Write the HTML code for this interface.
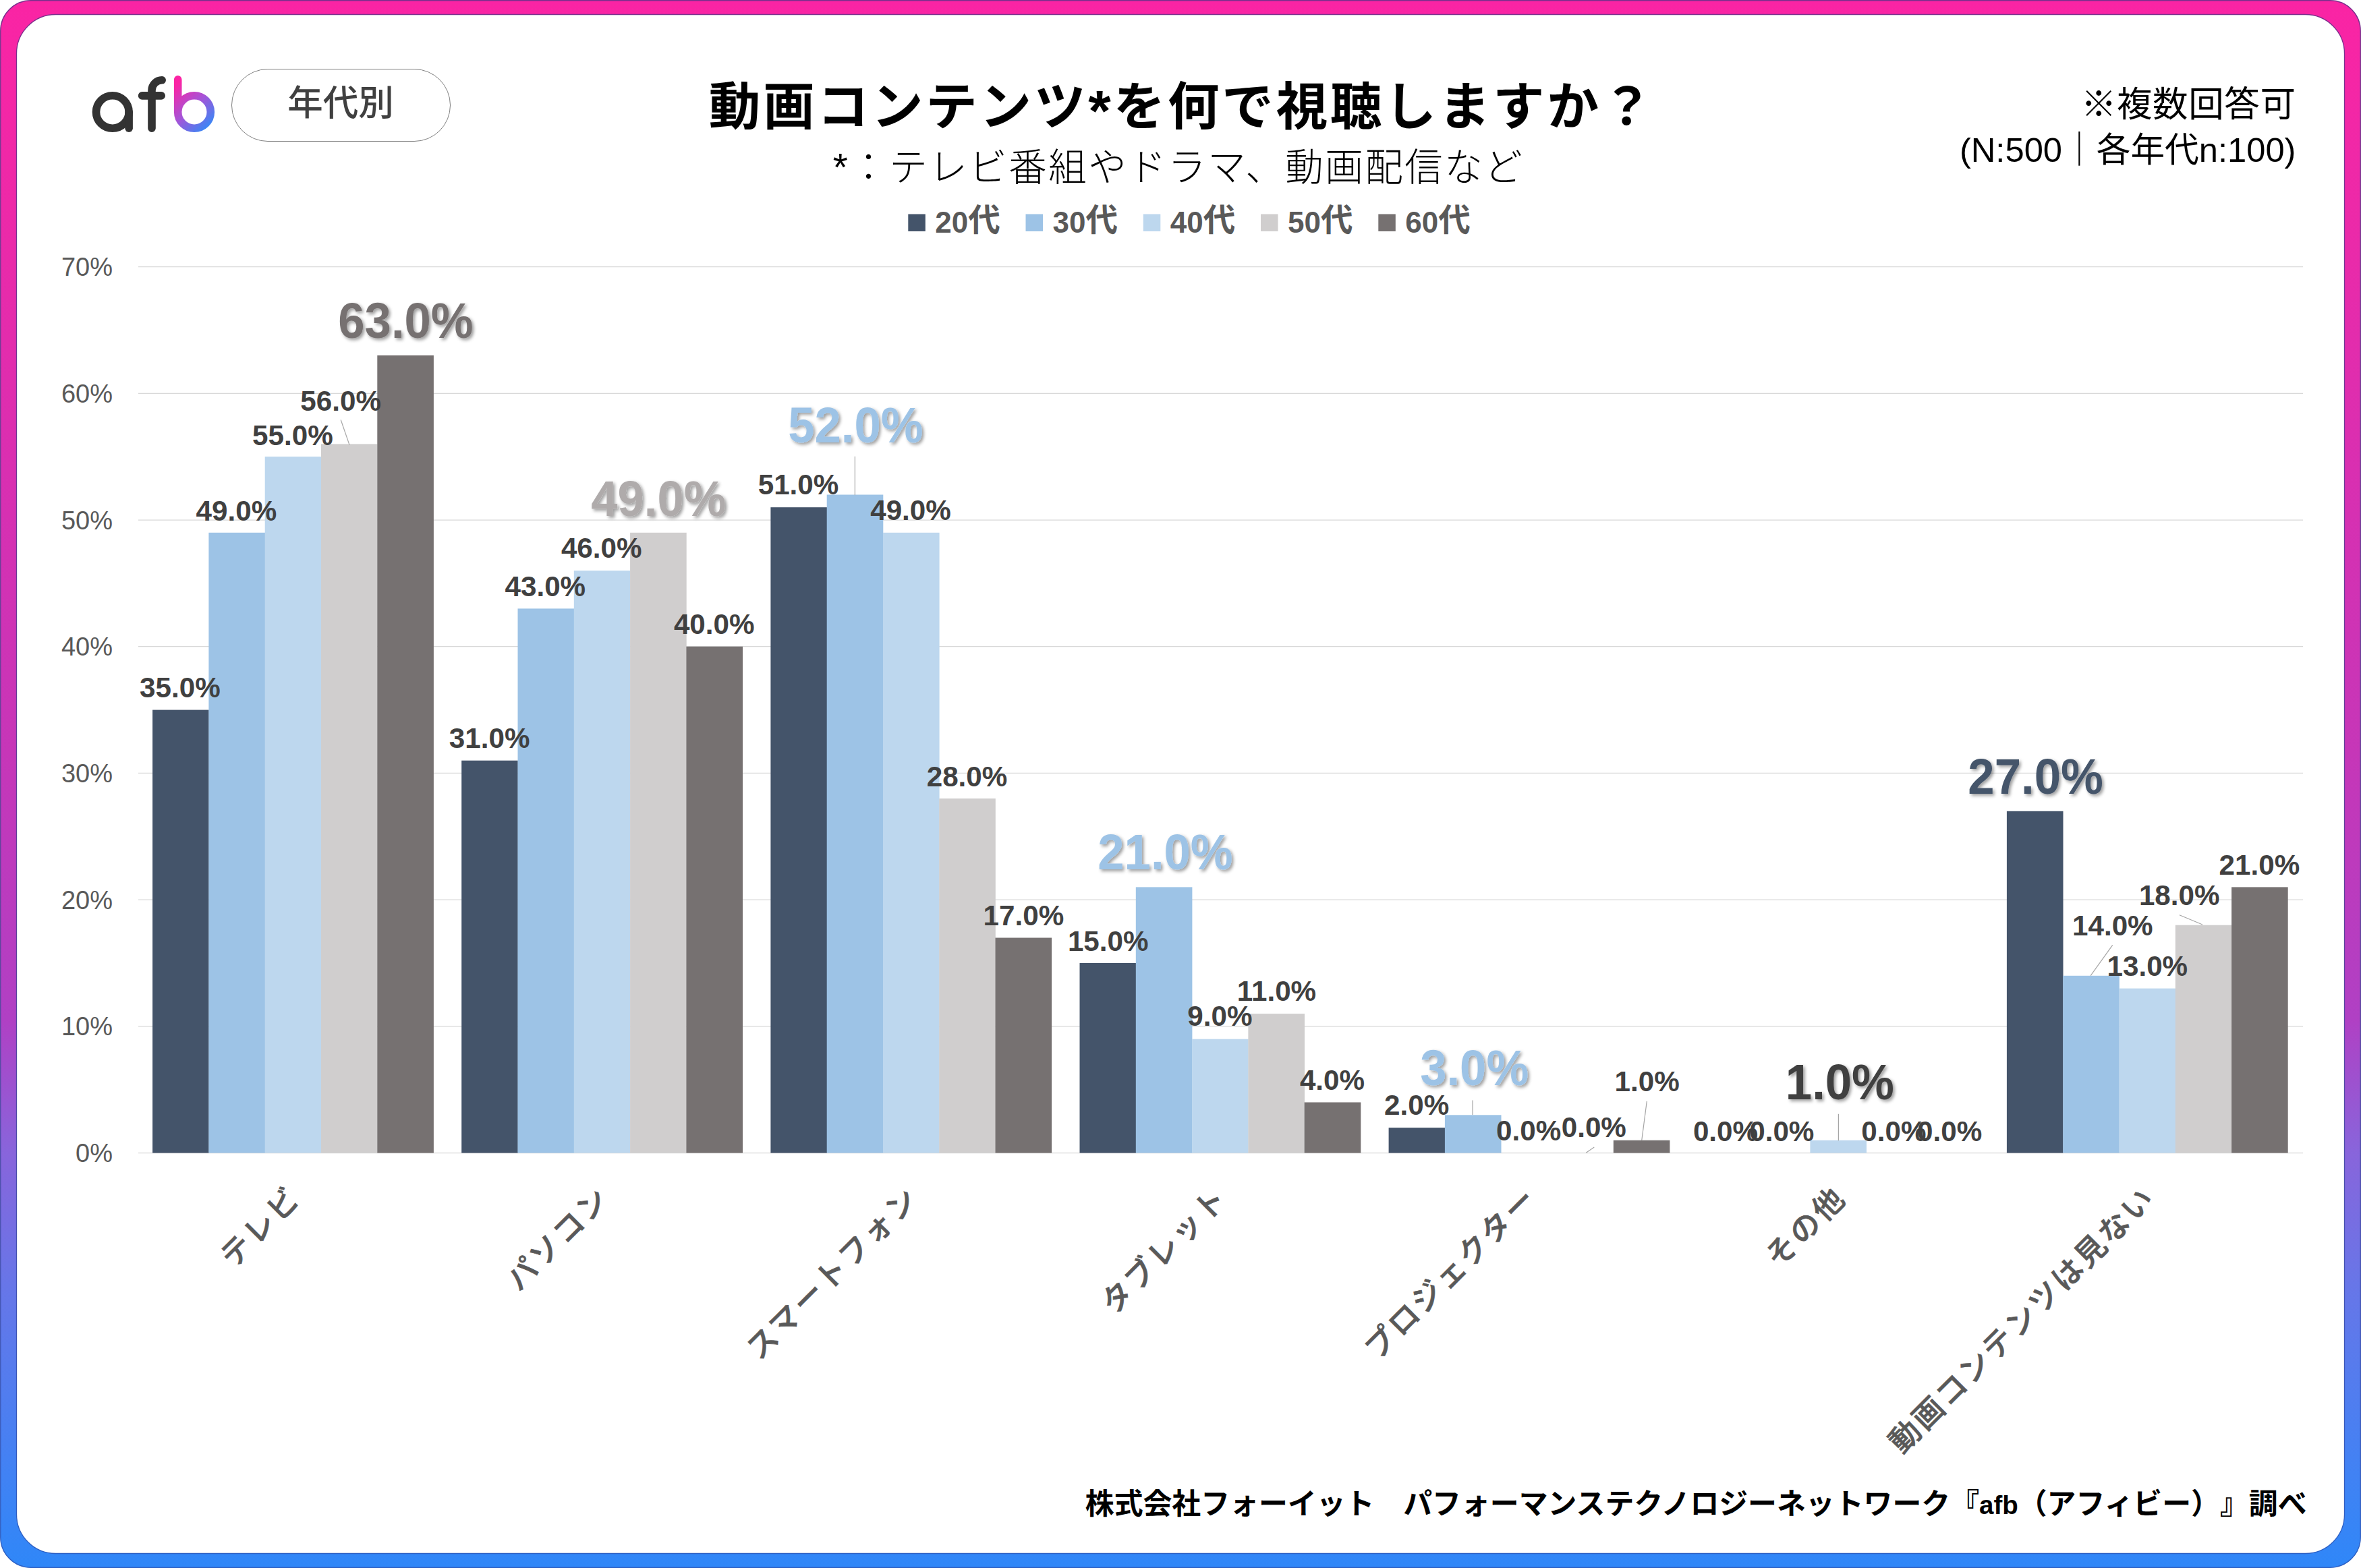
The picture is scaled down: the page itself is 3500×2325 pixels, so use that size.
<!DOCTYPE html>
<html lang="ja"><head><meta charset="utf-8"><title>動画コンテンツを何で視聴しますか？</title>
<style>html,body{margin:0;padding:0;background:#fff}svg{display:block}text{text-spacing-trim:space-all;font-family:"Liberation Sans","Noto Sans CJK JP",sans-serif}.j{font-family:"Liberation Sans","Noto Sans CJK JP",sans-serif}.d{font-weight:700;font-size:42.2px;fill:#404040;text-anchor:middle}.b{font-weight:700;font-size:73.5px;text-anchor:middle;filter:url(#sh)}.ax{font-size:38px;fill:#595959;text-anchor:end}.ct{font-size:45px;letter-spacing:3.6px;fill:#595959;stroke:#595959;stroke-width:.7px;text-anchor:end;font-weight:500}.lg{font-size:44px;font-weight:700;fill:#595959}.ld{stroke:#a6a6a6;stroke-width:1.2;fill:none}</style></head><body>
<svg width="3500" height="2325" viewBox="0 0 3500 2325">
<defs><linearGradient id="fg" x1="0" y1="0" x2="0" y2="1"><stop offset="0" stop-color="#FA24A4"/><stop offset="0.13" stop-color="#ED29A8"/><stop offset="0.30" stop-color="#D92FB1"/><stop offset="0.48" stop-color="#C636B8"/><stop offset="0.65" stop-color="#B040C4"/><stop offset="0.733" stop-color="#8964DB"/><stop offset="0.82" stop-color="#6776E8"/><stop offset="0.93" stop-color="#4481F3"/><stop offset="1" stop-color="#2F87F8"/></linearGradient><linearGradient id="sg" x1="0" y1="0" x2="0" y2="1"><stop offset="0" stop-color="#7a2f8c"/><stop offset="0.6" stop-color="#5b3f9a"/><stop offset="1" stop-color="#2b5fc4"/></linearGradient><linearGradient id="bg" gradientUnits="userSpaceOnUse" x1="262" y1="125" x2="318" y2="185"><stop offset="0" stop-color="#FB24A4"/><stop offset="0.5" stop-color="#A455D8"/><stop offset="1" stop-color="#2F8BF8"/></linearGradient><filter id="sh" x="-10%" y="-20%" width="125%" height="150%"><feDropShadow dx="2.8" dy="2.8" stdDeviation="2.4" flood-color="#000" flood-opacity="0.38"/></filter></defs>
<rect x="0.75" y="0.75" width="3498.5" height="2323.5" rx="45" ry="45" fill="url(#fg)" stroke="url(#sg)" stroke-width="1.4"/>
<rect x="24.5" y="21.5" width="3451" height="2282" rx="58" ry="58" fill="#fff" stroke="url(#sg)" stroke-width="1.3"/>
<g fill="none" stroke-linecap="round" stroke-linejoin="round" stroke-width="11.6"><title>afb</title><circle cx="166.8" cy="166" r="24.3" stroke="#333"/><line x1="191.1" y1="166" x2="191.1" y2="190.2" stroke="#333"/><path d="M225 190.2 V134 A15.2 15.2 0 0 1 240.2 118.8" stroke="#333"/><line x1="210.6" y1="141.9" x2="239.2" y2="141.9" stroke="#333"/><path d="M263.7 117.9 V166 A24.3 24.3 0 1 0 288 141.7 A24.3 24.3 0 0 0 263.7 166" stroke="url(#bg)"/></g>
<rect x="343.5" y="102.5" width="324" height="107" rx="53.5" ry="53.5" fill="#fff" stroke="#7f7f7f" stroke-width="1"/>
<text class="j" x="505" y="171" font-size="52.5" font-weight="500" fill="#404040" text-anchor="middle">年代別</text>
<text class="j" x="1752.5" y="184.5" font-size="76.5" letter-spacing="3.85" font-weight="700" fill="#000" text-anchor="middle">動画コンテンツ<tspan dy="9" font-size="86">*</tspan><tspan dy="-9">を何で視聴しますか？</tspan></text>
<text class="j" x="1747" y="267.7" font-size="56.5" letter-spacing="2.5" font-weight="300" fill="#000" text-anchor="middle">*：テレビ番組やドラマ、動画配信など</text>
<text class="j" x="3403.5" y="172.5" font-size="52.5" letter-spacing="0.6" font-weight="400" fill="#000" text-anchor="end">※複数回答可</text>
<text class="j" x="3403.5" y="240" font-size="50.7" font-weight="400" fill="#000" text-anchor="end">(N:500｜各年代n:100)</text>
<rect x="1346.3" y="317.5" width="25.5" height="25.5" fill="#44546A"/>
<text class="lg" x="1386.3" y="344.5">20<tspan font-size="47.5" dy="-1.5">代</tspan></text>
<rect x="1520.5" y="317.5" width="25.5" height="25.5" fill="#9DC3E6"/>
<text class="lg" x="1560.5" y="344.5">30<tspan font-size="47.5" dy="-1.5">代</tspan></text>
<rect x="1694.8" y="317.5" width="25.5" height="25.5" fill="#BDD7EE"/>
<text class="lg" x="1734.8" y="344.5">40<tspan font-size="47.5" dy="-1.5">代</tspan></text>
<rect x="1869.0" y="317.5" width="25.5" height="25.5" fill="#D0CECE"/>
<text class="lg" x="1909.0" y="344.5">50<tspan font-size="47.5" dy="-1.5">代</tspan></text>
<rect x="2043.3" y="317.5" width="25.5" height="25.5" fill="#767171"/>
<text class="lg" x="2083.3" y="344.5">60<tspan font-size="47.5" dy="-1.5">代</tspan></text>
<line x1="205.0" y1="1709.6" x2="3414.0" y2="1709.6" stroke="#d9d9d9" stroke-width="1.25"/>
<text class="ax" x="167" y="1723.1">0%</text>
<line x1="205.0" y1="1521.9" x2="3414.0" y2="1521.9" stroke="#d9d9d9" stroke-width="1.25"/>
<text class="ax" x="167" y="1535.4">10%</text>
<line x1="205.0" y1="1334.2" x2="3414.0" y2="1334.2" stroke="#d9d9d9" stroke-width="1.25"/>
<text class="ax" x="167" y="1347.7">20%</text>
<line x1="205.0" y1="1146.4" x2="3414.0" y2="1146.4" stroke="#d9d9d9" stroke-width="1.25"/>
<text class="ax" x="167" y="1159.9">30%</text>
<line x1="205.0" y1="958.7" x2="3414.0" y2="958.7" stroke="#d9d9d9" stroke-width="1.25"/>
<text class="ax" x="167" y="972.2">40%</text>
<line x1="205.0" y1="771.0" x2="3414.0" y2="771.0" stroke="#d9d9d9" stroke-width="1.25"/>
<text class="ax" x="167" y="784.5">50%</text>
<line x1="205.0" y1="583.3" x2="3414.0" y2="583.3" stroke="#d9d9d9" stroke-width="1.25"/>
<text class="ax" x="167" y="596.8">60%</text>
<line x1="205.0" y1="395.6" x2="3414.0" y2="395.6" stroke="#d9d9d9" stroke-width="1.25"/>
<text class="ax" x="167" y="409.1">70%</text>
<rect x="226.1" y="1052.6" width="83.6" height="657.0" fill="#44546A"/>
<rect x="684.2" y="1127.7" width="83.6" height="581.9" fill="#44546A"/>
<rect x="1142.4" y="752.2" width="83.6" height="957.4" fill="#44546A"/>
<rect x="1600.5" y="1428.0" width="83.6" height="281.6" fill="#44546A"/>
<rect x="2058.6" y="1672.1" width="83.6" height="37.5" fill="#44546A"/>
<rect x="2974.9" y="1202.8" width="83.6" height="506.8" fill="#44546A"/>
<rect x="309.4" y="789.8" width="83.6" height="919.8" fill="#9DC3E6"/>
<rect x="767.5" y="902.4" width="83.6" height="807.2" fill="#9DC3E6"/>
<rect x="1225.7" y="733.5" width="83.6" height="976.1" fill="#9DC3E6"/>
<rect x="1683.8" y="1315.4" width="83.6" height="394.2" fill="#9DC3E6"/>
<rect x="2141.9" y="1653.3" width="83.6" height="56.3" fill="#9DC3E6"/>
<rect x="3058.2" y="1446.8" width="83.6" height="262.8" fill="#9DC3E6"/>
<rect x="392.7" y="677.1" width="83.6" height="1032.5" fill="#BDD7EE"/>
<rect x="850.8" y="846.1" width="83.6" height="863.5" fill="#BDD7EE"/>
<rect x="1309.0" y="789.8" width="83.6" height="919.8" fill="#BDD7EE"/>
<rect x="1767.1" y="1540.7" width="83.6" height="168.9" fill="#BDD7EE"/>
<rect x="2683.4" y="1690.8" width="83.6" height="18.8" fill="#BDD7EE"/>
<rect x="3141.5" y="1465.6" width="83.6" height="244.0" fill="#BDD7EE"/>
<rect x="476.0" y="658.4" width="83.6" height="1051.2" fill="#D0CECE"/>
<rect x="934.1" y="789.8" width="83.6" height="919.8" fill="#D0CECE"/>
<rect x="1392.2" y="1184.0" width="83.6" height="525.6" fill="#D0CECE"/>
<rect x="1850.4" y="1503.1" width="83.6" height="206.5" fill="#D0CECE"/>
<rect x="3224.8" y="1371.7" width="83.6" height="337.9" fill="#D0CECE"/>
<rect x="559.3" y="527.0" width="83.6" height="1182.6" fill="#767171"/>
<rect x="1017.4" y="958.7" width="83.6" height="750.9" fill="#767171"/>
<rect x="1475.5" y="1390.5" width="83.6" height="319.1" fill="#767171"/>
<rect x="1933.7" y="1634.5" width="83.6" height="75.1" fill="#767171"/>
<rect x="2391.8" y="1690.8" width="83.6" height="18.8" fill="#767171"/>
<rect x="3308.1" y="1315.4" width="83.6" height="394.2" fill="#767171"/>
<text class="j ct" transform="translate(449.0,1779) rotate(-45)">テレビ</text>
<text class="j ct" transform="translate(907.2,1779) rotate(-45)">パソコン</text>
<text class="j ct" transform="translate(1365.3,1779) rotate(-45)">スマートフォン</text>
<text class="j ct" transform="translate(1823.4,1779) rotate(-45)">タブレット</text>
<text class="j ct" transform="translate(2281.6,1779) rotate(-45)">プロジェクター</text>
<text class="j ct" transform="translate(2739.7,1779) rotate(-45)">その他</text>
<text class="j ct" transform="translate(3197.9,1779) rotate(-45)">動画コンテンツは見ない</text>
<line class="ld" x1="505.2" y1="622.5" x2="518" y2="659.6"/>
<line class="ld" x1="1267.4" y1="676.7" x2="1267.4" y2="734.2"/>
<line class="ld" x1="2183" y1="1631.6" x2="2183" y2="1653"/>
<line class="ld" x1="2363.3" y1="1700.9" x2="2351.2" y2="1709.3"/>
<line class="ld" x1="2441.3" y1="1632.9" x2="2433.7" y2="1691.2"/>
<line class="ld" x1="2725.4" y1="1651.8" x2="2725.4" y2="1691.2"/>
<line class="ld" x1="3131.7" y1="1401.3" x2="3099.2" y2="1446.6"/>
<line class="ld" x1="3230.9" y1="1356.7" x2="3265" y2="1371"/>
<text class="d" x="266.9" y="1033.6">35.0%</text>
<text class="d" x="350.4" y="772.2">49.0%</text>
<text class="d" x="433.9" y="659.6">55.0%</text>
<text class="d" x="505.1" y="609.3">56.0%</text>
<text class="d" x="725.6" y="1108.9">31.0%</text>
<text class="d" x="808.3" y="884.1">43.0%</text>
<text class="d" x="891.7" y="827.4">46.0%</text>
<text class="d" x="1058.7" y="940.4">40.0%</text>
<text class="d" x="1183.5" y="733.0">51.0%</text>
<text class="d" x="1350.0" y="771.2">49.0%</text>
<text class="d" x="1433.5" y="1165.6">28.0%</text>
<text class="d" x="1517.4" y="1372.1">17.0%</text>
<text class="d" x="1642.7" y="1409.5">15.0%</text>
<text class="d" x="1808.4" y="1521.4">9.0%</text>
<text class="d" x="1892.5" y="1484.0">11.0%</text>
<text class="d" x="1975.0" y="1615.9">4.0%</text>
<text class="d" x="2100.1" y="1653.0">2.0%</text>
<text class="d" x="2266.1" y="1691.0">0.0%</text>
<text class="d" x="2362.8" y="1686.0">0.0%</text>
<text class="d" x="2441.7" y="1617.6">1.0%</text>
<text class="d" x="2558.0" y="1692.0">0.0%</text>
<text class="d" x="2641.3" y="1692.0">0.0%</text>
<text class="d" x="2807.4" y="1692.0">0.0%</text>
<text class="d" x="2890.2" y="1692.0">0.0%</text>
<text class="d" x="3131.8" y="1387.0">14.0%</text>
<text class="d" x="3183.3" y="1446.6">13.0%</text>
<text class="d" x="3230.7" y="1342.3">18.0%</text>
<text class="d" x="3349.4" y="1296.7">21.0%</text>
<text class="b" transform="translate(601.5,501.2) scale(0.962,1)" fill="#767171">63.0%</text>
<text class="b" transform="translate(976.4,764.8) scale(0.962,1)" fill="#AFABAB">49.0%</text>
<text class="b" transform="translate(1268.4,656.4) scale(0.962,1)" fill="#9DC3E6">52.0%</text>
<text class="b" transform="translate(1727.5,1289.4) scale(0.962,1)" fill="#9DC3E6">21.0%</text>
<text class="b" transform="translate(2185.7,1609.3) scale(0.962,1)" fill="#9DC3E6">3.0%</text>
<text class="b" transform="translate(2727.4,1630.2) scale(0.962,1)" fill="#404040">1.0%</text>
<text class="b" transform="translate(3017.6,1177.1) scale(0.962,1)" fill="#44546A">27.0%</text>
<text class="j" x="3419.5" y="2244.5" font-size="42.86" font-weight="700" fill="#000" text-anchor="end">株式会社フォーイット　パフォーマンステクノロジーネットワーク『<tspan font-size="38.5">afb</tspan>（アフィビー）』調べ</text>
</svg></body></html>
